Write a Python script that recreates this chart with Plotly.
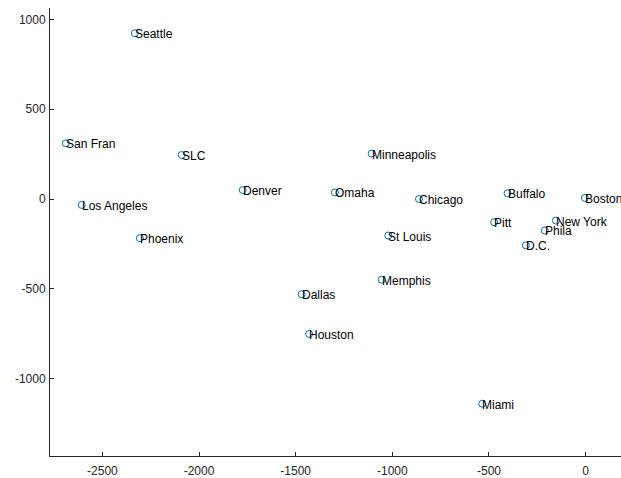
import plotly.graph_objects as go

cities = ["Seattle", "San Fran", "SLC", "Denver", "Los Angeles", "Phoenix",
          "Minneapolis", "Omaha", "Chicago", "St Louis", "Buffalo", "Boston",
          "Pitt", "New York", "Phila", "D.C.", "Memphis", "Dallas", "Houston", "Miami"]
x_vals = [-2332, -2689, -2090, -1774, -2607, -2306,
          -1107, -1297, -862, -1021, -404, -4,
          -473, -154, -211, -309, -1055, -1469, -1430, -535]
y_vals = [923, 310, 245, 50, -33, -218,
          253, 37, 0, -203, 32, 6,
          -129, -120, -175, -258, -449, -530, -751, -1139]
x_ticks = [-2500, -2000, -1500, -1000, -500, 0]
y_ticks = [-1000, -500, 0, 500, 1000]

FONT = "Liberation Sans, Arial, Helvetica, sans-serif"
AX = "#262626"

fig = go.Figure()
fig.add_trace(go.Scatter(
    x=x_vals, y=y_vals, mode="markers",
    marker=dict(symbol="circle-open", size=7, color="#0072BD",
                line=dict(width=1, color="#0072BD")),
    showlegend=False, hoverinfo="text", text=cities, cliponaxis=False))

for name, xv, yv in zip(cities, x_vals, y_vals):
    fig.add_annotation(x=xv, y=yv, text=name, showarrow=False,
                       xanchor="left", yanchor="middle", xshift=-2, yshift=-1,
                       font=dict(family=FONT, size=12, color="#000000"))

axis_common = dict(showline=True, linecolor=AX, linewidth=1, ticks="inside",
                   ticklen=4, tickcolor=AX, tickwidth=1, showgrid=False,
                   zeroline=False, tickfont=dict(family=FONT, size=12, color=AX))

fig.update_layout(
    width=621, height=478,
    margin=dict(l=50, r=0, t=8, b=20),
    paper_bgcolor="white", plot_bgcolor="white",
    xaxis=dict(range=[-2771, 183], tickvals=x_ticks,
               ticktext=[str(v) for v in x_ticks], ticklabelstandoff=4,
               **axis_common),
    yaxis=dict(range=[-1430, 1063], tickvals=y_ticks,
               ticktext=[str(v) for v in y_ticks], ticklabelstandoff=1,
               **axis_common),
    font=dict(family=FONT, size=12, color=AX),
)

fig.write_html("out.html", config={"displayModeBar": False},
               post_script="document.body.style.margin='0';document.body.style.overflow='hidden';")
